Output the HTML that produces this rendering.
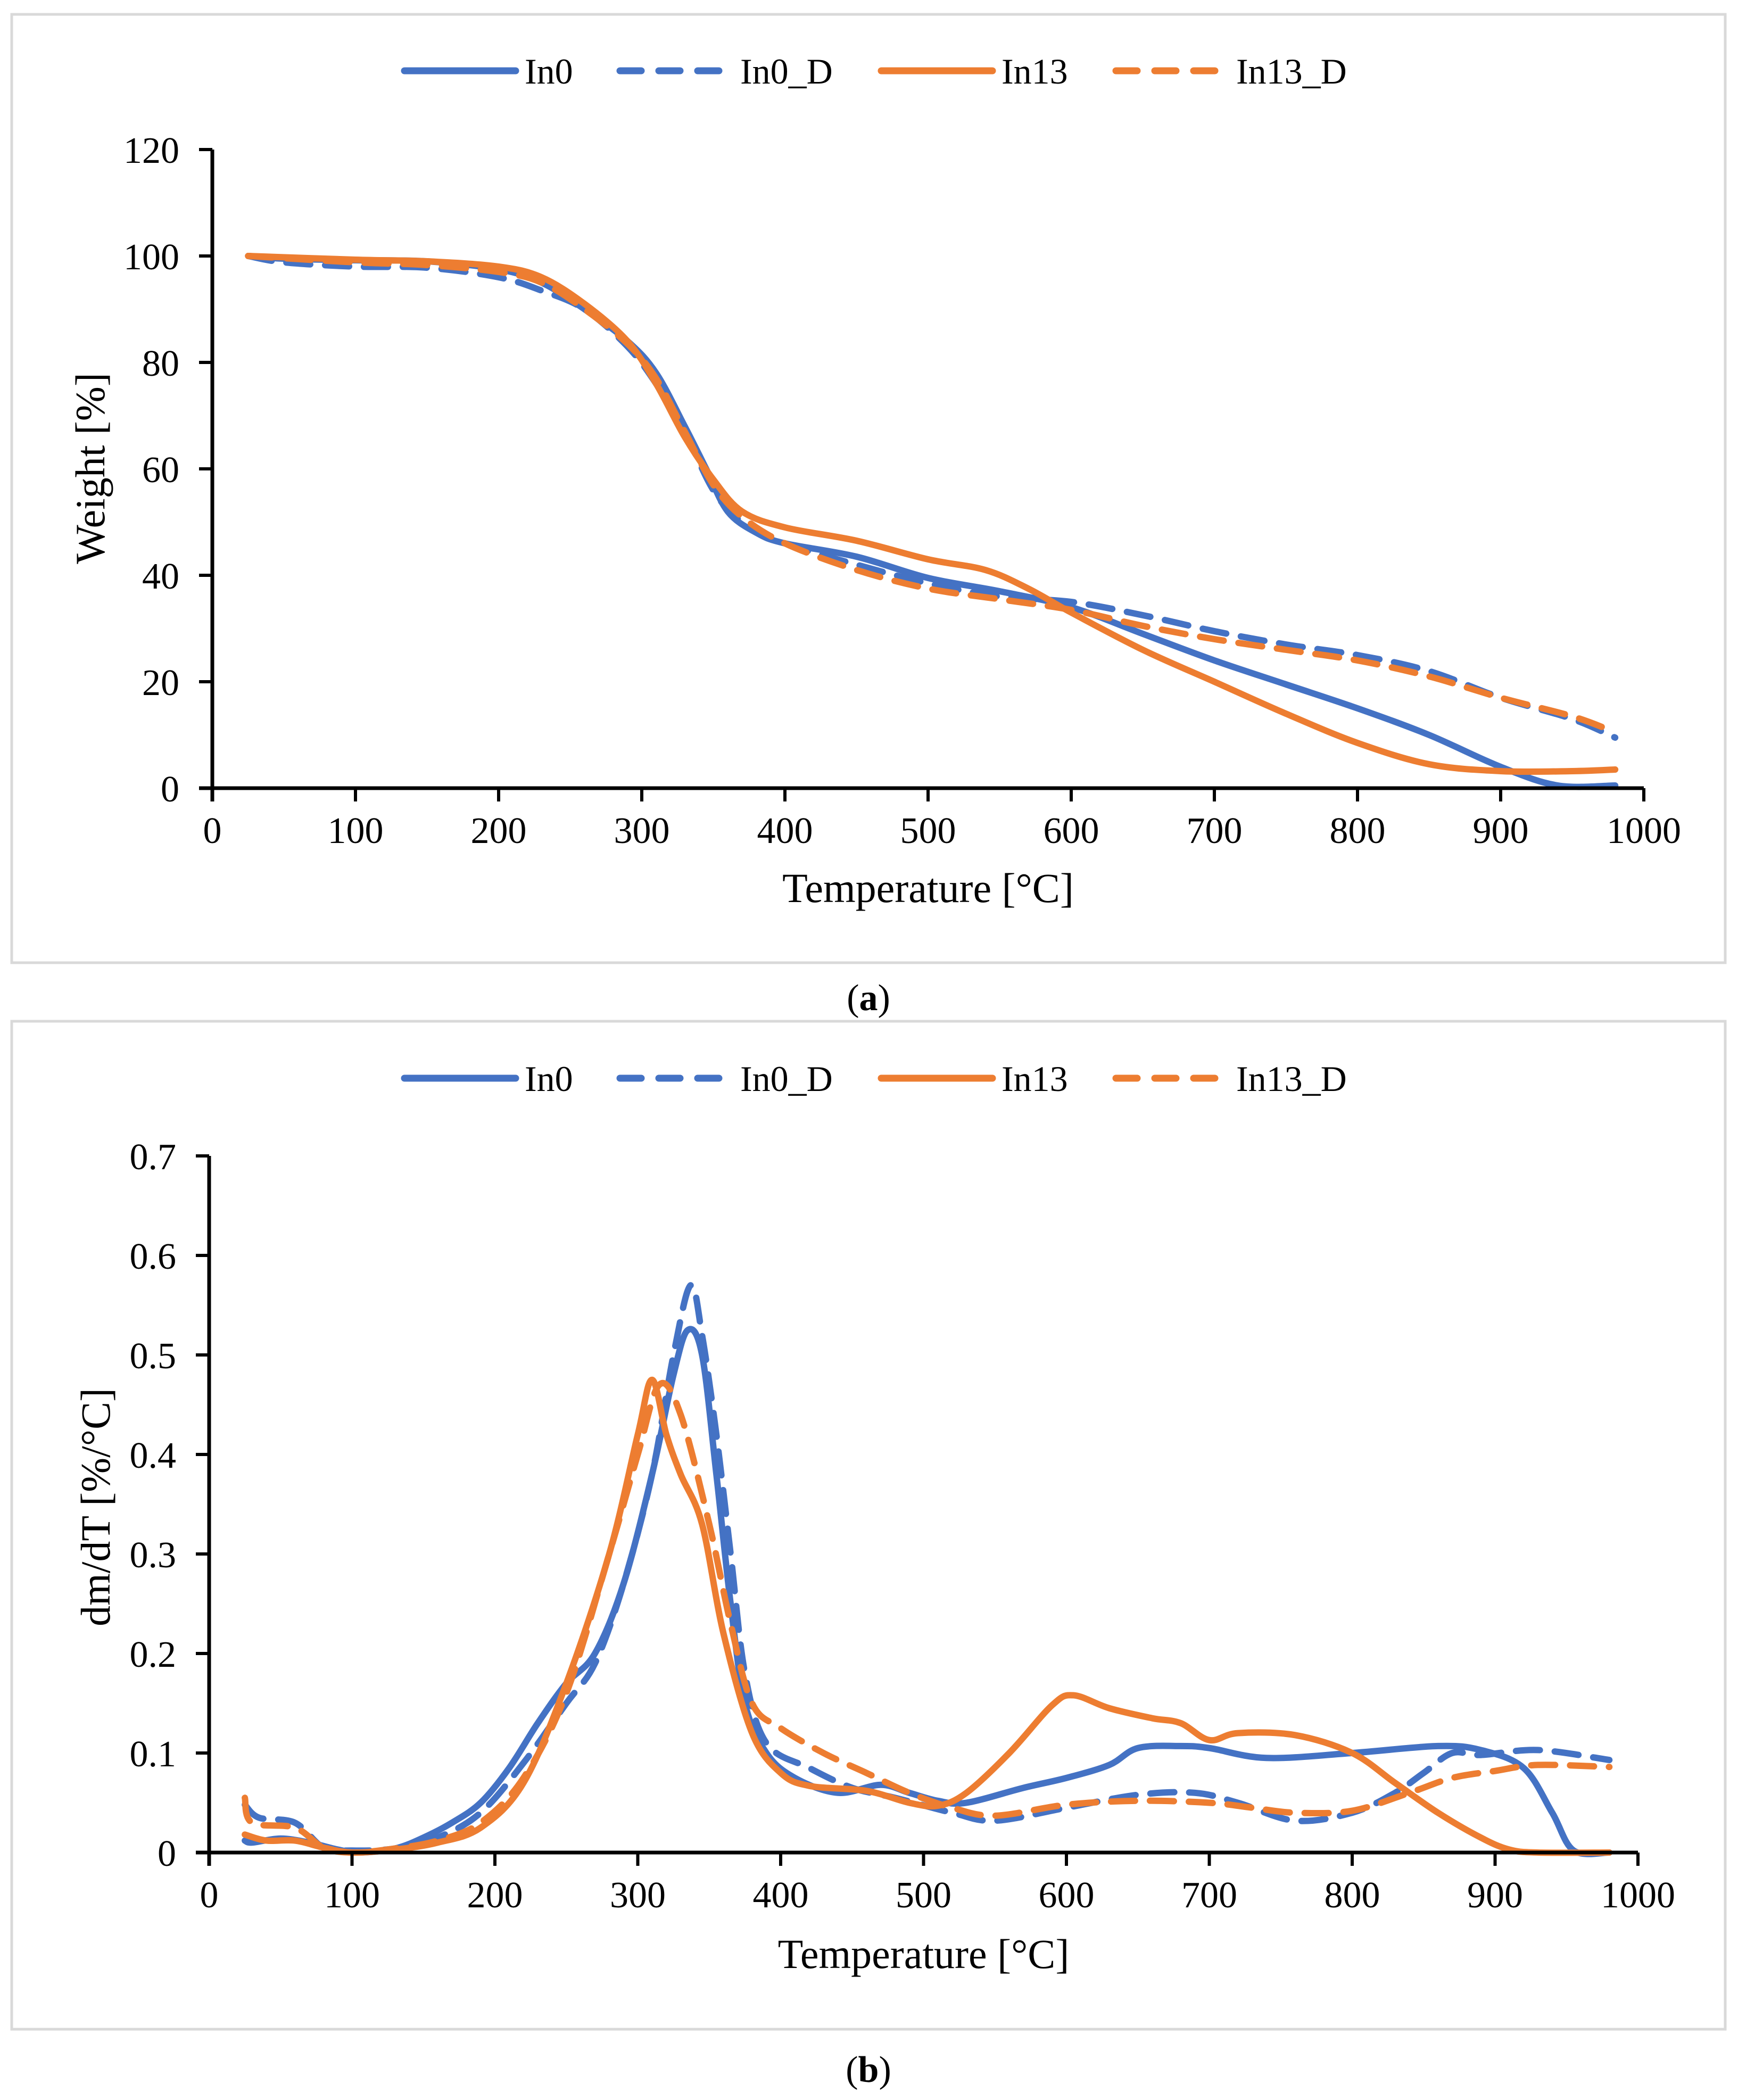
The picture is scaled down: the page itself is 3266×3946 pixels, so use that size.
<!DOCTYPE html>
<html><head><meta charset="utf-8"><style>
html,body{margin:0;padding:0;background:#fff}
svg{display:block;font-family:"Liberation Serif","Times New Roman",serif}
text{font-family:"Liberation Serif","Times New Roman",serif;fill:#000}
</style></head><body>
<svg id="s" width="3266" height="3946" viewBox="0 0 3266 3946" font-family="Liberation Serif, serif">
<rect x="22" y="27" width="3220" height="1782" fill="none" stroke="#d9d9d9" stroke-width="5"/>
<rect x="22" y="1919" width="3220" height="1894" fill="none" stroke="#d9d9d9" stroke-width="5"/>
<text x="1632" y="1898" font-size="70" text-anchor="middle" font-family="Liberation Serif, serif">(<tspan font-weight="bold">a</tspan>)</text>
<text x="1632" y="3912" font-size="70" text-anchor="middle" font-family="Liberation Serif, serif">(<tspan font-weight="bold">b</tspan>)</text>
</svg>
<script>
const xTicks=[0,100,200,300,400,500,600,700,800,900,1000];
const yTicksA=[0,20,40,60,80,100,120];
const yTicksB=[0,0.1,0.2,0.3,0.4,0.5,0.6,0.7];
const seriesNames=["In0","In0_D","In13","In13_D"];
const aT_In0=[25,50,100,150,200,230,260,290,310,330,345,360,380,400,450,500,550,600,650,700,750,800,850,900,940,980];
const aW_In0=[100,99.5,99.2,99,97.5,95,90,84,78,68,60,52,48,46,43.5,39.5,37,34,29,24,19.5,15,10,4,0.5,0.5];
const aT_In0D=[25,50,100,150,200,230,260,290,310,330,350,370,400,450,500,550,600,650,700,750,800,850,900,950,980];
const aW_In0D=[100,98.8,98,97.8,96,93.5,90,83,76,67,56,50,46,42,38.5,36,35,32.5,29.5,27,25,22,17,13,9.5];
const aT_In13=[25,100,150,200,230,260,290,310,330,350,370,400,450,500,540,570,600,650,700,750,800,850,900,950,980];
const aW_In13=[100,99.3,99,98,96,91,84,76,66,58,52,49,46.5,43,41,37.5,33,26,20,14,8.5,4.5,3.2,3.2,3.5];
const aT_In13D=[25,100,150,200,230,260,290,310,330,350,370,400,450,500,550,600,650,700,750,800,850,900,950,980];
const aW_In13D=[100,98.8,98.3,97,95,90,83.5,77,67,57,51,46,41,37.5,35.5,33.5,30.5,28,26,24,21,17,13.5,10.5];
const bT_In0=[25,30,50,70,90,105,130,150,170,190,210,230,250,270,290,310,325,335,345,355,365,375,390,410,440,470,490,510,530,570,600,630,650,680,700,740,800,860,890,920,940,955,980];
const bD_In0=[0.012,0.01,0.014,0.01,0.003,0,0.004,0.015,0.03,0.05,0.085,0.13,0.17,0.2,0.27,0.38,0.48,0.525,0.5,0.38,0.25,0.15,0.1,0.075,0.06,0.068,0.06,0.052,0.05,0.065,0.075,0.088,0.105,0.107,0.105,0.095,0.1,0.107,0.103,0.085,0.04,0.002,0];
const bT_In0D=[25,35,60,80,100,130,160,190,220,250,270,290,310,325,337,345,355,365,375,390,420,450,480,520,550,600,650,690,720,760,800,830,850,870,890,930,980];
const bD_In0D=[0.048,0.035,0.03,0.005,0.002,0.004,0.015,0.04,0.09,0.15,0.19,0.27,0.38,0.5,0.57,0.52,0.42,0.3,0.18,0.11,0.085,0.065,0.055,0.04,0.032,0.045,0.058,0.06,0.05,0.032,0.04,0.06,0.08,0.1,0.098,0.103,0.093];
const bT_In13=[25,40,60,80,100,130,160,190,220,250,280,300,310,320,330,345,360,380,400,420,460,490,510,530,560,590,605,630,660,680,700,720,760,800,830,860,890,910,930,980];
const bD_In13=[0.018,0.012,0.012,0.005,0,0.003,0.01,0.025,0.07,0.17,0.3,0.42,0.475,0.42,0.38,0.33,0.22,0.12,0.08,0.067,0.062,0.05,0.047,0.06,0.1,0.148,0.158,0.145,0.135,0.13,0.113,0.12,0.118,0.1,0.07,0.04,0.015,0.003,0,0];
const bT_In13D=[25,30,60,80,100,130,160,190,220,250,280,300,315,330,350,365,380,400,430,460,490,520,550,600,650,700,730,760,800,840,870,900,930,980];
const bD_In13D=[0.055,0.03,0.025,0.005,0,0.004,0.012,0.03,0.075,0.16,0.3,0.4,0.47,0.44,0.33,0.23,0.15,0.125,0.1,0.08,0.06,0.045,0.037,0.048,0.052,0.05,0.045,0.04,0.042,0.06,0.075,0.082,0.088,0.086];

const NS="http://www.w3.org/2000/svg";
const svg=document.getElementById('s');
function mk(tag,attrs,parent){const e=document.createElementNS(NS,tag);for(const k in attrs)e.setAttribute(k,attrs[k]);(parent||svg).appendChild(e);return e;}
const BLUE="#4472c4",ORANGE="#ed7d31";
const styles=[[BLUE,null],[BLUE,"45 28"],[ORANGE,null],[ORANGE,"45 28"]];
const FF="Liberation Serif, serif";

function smoothPath(p){
  let d='M'+p[0][0].toFixed(1)+','+p[0][1].toFixed(1);
  for(let i=0;i<p.length-1;i++){
    const p0=p[Math.max(0,i-1)],p1=p[i],p2=p[i+1],p3=p[Math.min(p.length-1,i+2)];
    const c1x=p1[0]+(p2[0]-p0[0])/6,c1y=p1[1]+(p2[1]-p0[1])/6;
    const c2x=p2[0]-(p3[0]-p1[0])/6,c2y=p2[1]-(p3[1]-p1[1])/6;
    d+=' C'+c1x.toFixed(1)+','+c1y.toFixed(1)+' '+c2x.toFixed(1)+','+c2y.toFixed(1)+' '+p2[0].toFixed(1)+','+p2[1].toFixed(1);
  }
  return d;
}

function chart(cfg){
  const g=mk('g',{});
  
  
  const X=v=>cfg.x0+(v-0)/1000*(cfg.x1-cfg.x0);
  const Y=v=>cfg.y0-(v/cfg.ymax)*(cfg.y0-cfg.y1);
  const lx=[760,1165,1656,2097];
  seriesNames.forEach((n,i)=>{
    const l=mk('line',{x1:lx[i],x2:lx[i]+209,y1:cfg.ly,y2:cfg.ly,stroke:styles[i][0],'stroke-width':13,'stroke-linecap':'round'},g);
    if(styles[i][1])l.setAttribute('stroke-dasharray',"40 33");
    
    
    const t=mk('text',{x:lx[i]+226,y:cfg.ly+24,'font-size':68,'font-family':FF},g);t.textContent=n;
    
    
  });
  cfg.data.forEach((d,i)=>{
    const pts=d[0].map((t,j)=>[X(t),Y(d[1][j])]);
    const p=mk('path',{d:smoothPath(pts),fill:'none',stroke:styles[i][0],'stroke-width':12,'stroke-linejoin':'round','stroke-linecap':'round'},g);
    if(styles[i][1])p.setAttribute('stroke-dasharray',styles[i][1]);
    
    
  });
  const ax=mk('line',{x1:cfg.x0-25,x2:cfg.x1,y1:cfg.y0,y2:cfg.y0,stroke:'#000','stroke-width':7},g);
  
  
  const ay=mk('line',{x1:cfg.x0,x2:cfg.x0,y1:cfg.y0+25,y2:cfg.y1,stroke:'#000','stroke-width':7},g);
  
  
  xTicks.forEach(v=>{
    const tk=mk('line',{x1:X(v),x2:X(v),y1:cfg.y0,y2:cfg.y0+25,stroke:'#000','stroke-width':6},g);
    
    
    const t=mk('text',{x:X(v),y:cfg.y0+103,'font-size':70,'text-anchor':'middle','font-family':FF},g);t.textContent=v;
    
    
  });
  cfg.yt.forEach(v=>{
    const tk=mk('line',{x1:cfg.x0-25,x2:cfg.x0,y1:Y(v),y2:Y(v),stroke:'#000','stroke-width':6},g);
    
    
    const t=mk('text',{x:cfg.x0-62,y:Y(v)+25,'font-size':70,'text-anchor':'end','font-family':FF},g);t.textContent=v;
    
    
  });
  const xt=mk('text',{x:(cfg.x0+cfg.x1)/2,y:cfg.xty,'font-size':78,'text-anchor':'middle','font-family':FF},g);xt.textContent="Temperature [°C]";
  
  
  const yt=mk('text',{x:0,y:0,'font-size':78,'text-anchor':'middle','font-family':FF,transform:`translate(${cfg.ytx},${cfg.ytyc}) rotate(-90)`},g);yt.textContent=cfg.ylabel;
  
  
}
chart({name:'chart-a-weight',x0:399,x1:3089,y0:1481,y1:281,ymax:120,ly:133,yt:yTicksA,xty:1695,ytx:196,ytyc:880,ylabel:"Weight [%]",
  data:[[aT_In0,aW_In0],[aT_In0D,aW_In0D],[aT_In13,aW_In13],[aT_In13D,aW_In13D]]});
chart({name:'chart-b-dtg',x0:393,x1:3078,y0:3481,y1:2172,ymax:0.7,ly:2026,yt:yTicksB,xty:3698,ytx:206,ytyc:2832,ylabel:"dm/dT [%/°C]",
  data:[[bT_In0,bD_In0],[bT_In0D,bD_In0D],[bT_In13,bD_In13],[bT_In13D,bD_In13D]]});
</script>
</body></html>
